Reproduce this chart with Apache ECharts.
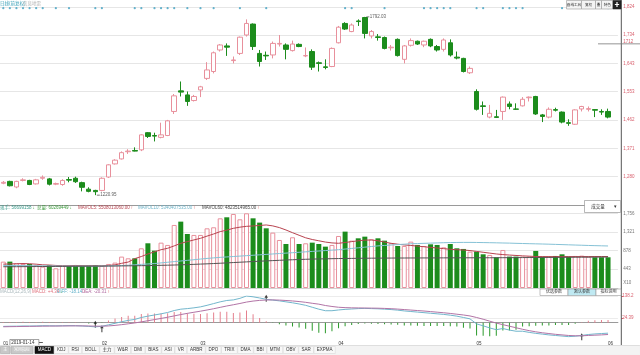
<!DOCTYPE html>
<html>
<head>
<meta charset="utf-8">
<script src="https://cdn.jsdelivr.net/npm/echarts@6.0.0/dist/echarts.min.js"></script>
<style>
  html, body { margin: 0; padding: 0; background: #fff; }
  #chart { width: 640px; height: 355px; }
</style>
</head>
<body>
<div id="chart"></div>
<script>
// 交易日
const dates = [
  '2019-01-11','2019-01-14','2019-01-15','2019-01-16','2019-01-17','2019-01-18','2019-01-21','2019-01-22','2019-01-23','2019-01-24','2019-01-25','2019-01-28','2019-01-29','2019-01-30','2019-01-31',
  '2019-02-01','2019-02-11','2019-02-12','2019-02-13','2019-02-14','2019-02-15','2019-02-18','2019-02-19','2019-02-20','2019-02-21','2019-02-22','2019-02-25','2019-02-26','2019-02-27','2019-02-28',
  '2019-03-01','2019-03-04','2019-03-05','2019-03-06','2019-03-07','2019-03-08','2019-03-11','2019-03-12','2019-03-13','2019-03-14','2019-03-15','2019-03-18','2019-03-19','2019-03-20','2019-03-21','2019-03-22','2019-03-25','2019-03-26','2019-03-27','2019-03-28','2019-03-29',
  '2019-04-01','2019-04-02','2019-04-03','2019-04-04','2019-04-08','2019-04-09','2019-04-10','2019-04-11','2019-04-12','2019-04-15','2019-04-16','2019-04-17','2019-04-18','2019-04-19','2019-04-22','2019-04-23','2019-04-24','2019-04-25','2019-04-26','2019-04-29','2019-04-30',
  '2019-05-06','2019-05-07','2019-05-08','2019-05-09','2019-05-10','2019-05-13','2019-05-14','2019-05-15','2019-05-16','2019-05-17','2019-05-20','2019-05-21','2019-05-22','2019-05-23','2019-05-24','2019-05-27','2019-05-28','2019-05-29','2019-05-30','2019-05-31',
  '2019-06-03'
];

// K线
const opens = [1259,1265,1247,1268,1268,1257,1275,1273,1256,1255,1271,1275,1261,1240,1236,
  1236,1279,1321,1337,1360,1364,1366,1421,1412,1406,1412,1489,1555,1542,1524,
  1558,1595,1617,1686,1699,1652,1675,1734,1769,1675,1669,1670,1705,1702,1684,1704,1667,
  1681,1645,1632,1633,1709,1771,1745,1779,1790,1731,1728,1726,1693,1720,1656,1701,1714,1702,1720,1697,1688,1709,1663,1659,1613,
  1553,1507,1471,1472,1489,1513,1497,1507,1533,1537,1478,1471,1495,1487,1453,1448,1497,1496,1495,1489,1489];
const closes = [1262,1251,1265,1270,1255,1270,1278,1256,1258,1268,1269,1264,1246,1233,1232,
  1275,1318,1333,1357,1362,1362,1414,1409,1410,1414,1459,1539,1551,1521,1537,
  1568,1622,1677,1702,1695,1654,1727,1771,1697,1649,1667,1707,1707,1688,1705,1697,1668,
  1631,1643,1630,1691,1759,1753,1766,1777,1739,1745,1726,1691,1695,1668,1699,1716,1705,1714,1699,1686,1718,1670,1660,1617,1627,
  1496,1505,1483,1470,1535,1505,1496,1528,1535,1481,1473,1496,1493,1455,1451,1494,1505,1498,1493,1487,1471];
const lows = [1256,1249,1243,1265,1253,1255,1270,1252,1253,1251,1262,1260,1233,1230,1220.95,
  1233,1276,1319,1335,1353,1361,1362,1404,1393,1403,1410,1481,1537,1507,1521,
  1535,1590,1611,1681,1667,1643,1670,1729,1686,1633,1654,1659,1697,1656,1681,1695,1663,
  1622,1617,1624,1631,1707,1750,1743,1763,1723,1723,1716,1688,1684,1665,1643,1697,1702,1695,1695,1681,1681,1665,1656,1614,1609,
  1492,1478,1467,1468,1462,1496,1494,1505,1521,1478,1455,1467,1489,1451,1443,1446,1489,1489,1471,1478,1467];
const highs = [1266,1267,1267,1275,1270,1273,1284,1276,1261,1272,1279,1280,1264,1246,1238,
  1278,1320,1336,1361,1368,1374,1416,1423,1421,1453,1462,1545,1585,1553,1542,
  1571,1647,1681,1705,1707,1665,1729,1784,1771,1686,1681,1713,1734,1707,1716,1707,1694,
  1688,1649,1656,1694,1763,1775,1771,1784,1792.03,1750,1737,1729,1702,1723,1702,1723,1716,1716,1723,1702,1723,1720,1681,1661,1633,
  1560,1521,1510,1494,1537,1521,1515,1535,1537,1539,1481,1502,1501,1489,1464,1496,1507,1505,1496,1496,1498];

// 成交量 (X10^7)
const volumes = [620,620,581,565,565,541,502,541,463,518,518,526,526,526,541,
  518,565,597,738,698,698,933,1051,878,1066,1012,1482,1560,1270,1247,
  1247,1403,1427,1638,1662,1740,1615,1756,1638,1537,1403,1302,1129,1035,1192,1035,1051,
  1066,1035,972,1012,1223,1325,1113,1168,1207,1145,1168,1113,1051,988,988,1090,1012,988,1027,1012,957,1035,933,918,855,
  855,792,777,722,894,738,738,738,738,871,738,738,753,792,738,753,761,738,722,722,722];
const volMa5 = [560,565,570,575,570,560,545,540,530,525,525,530,525,525,525,
  520,530,545,580,610,690,740,800,850,900,933,990,1050,1090,1130,
  1168,1220,1270,1325,1360,1403,1430,1450,1458,1470,1482,1460,1420,1364,1300,1240,1180,
  1140,1110,1080,1060,1051,1070,1090,1110,1125,1129,1110,1080,1050,1030,1012,1000,985,970,955,940,925,910,900,894,880,
  860,840,820,800,785,775,765,755,748,740,738,738,738,738,738,738,738,738,740,740,740];
const volMa10 = [530,530,528,526,524,522,520,518,518,516,516,515,515,515,515,515,518,522,528,535,545,
  555,565,575,590,605,620,635,650,665,680,695,708,720,730,740,750,760,770,780,790,800,810,820,830,840,850,
  860,870,880,890,900,915,930,945,960,975,990,1000,1010,1020,1030,1040,1045,1050,1055,1060,1065,1068,1070,1072,
  1072,1070,1068,1065,1062,1058,1055,1050,1046,1042,1038,1034,1030,1025,1020,1015,1010,1005,1000,996,992,988];
const volMa60 = [500,500,501,502,503,504,505,506,507,508,509,510,511,512,513,514,515,517,519,521,523,525,527,530,533,536,
  540,545,550,556,562,568,575,582,590,598,606,614,622,630,637,644,651,658,664,670,675,
  680,683,686,689,692,694,696,698,700,701,702,703,704,705,705,706,706,707,707,708,708,709,709,710,710,710,711,711,712,712,713,714,715,716,717,718,719,720,721,722,723,724,725,726,727,728];

// MACD(12,26,9)
const diffs = [-19.0,-18.14,-17.8,-17.0,-17.2,-16.6,-15.4,-15.8,-16.2,-15.6,-15.0,-15.3,-16.8,-19.0,-21.5,
  -18.5,-11.0,-3.0,5.0,12.0,17.0,27.0,34.0,40.0,46.0,53.0,63.0,70.0,73.0,77.0,
  82,90,99,108,115,118,126,138.2,134,128,121,117,113,108,103,97,90,80,
  70,62,62,66,69,71,73,74,
  73,72,70,68,65,61,58,55,52,49,46,43,39,34,27,20,
  -6,-16,-27,-36,-30,-38,-44,-44,-50,-55,-59,-63,-66,-69,-72,-70,-66,-61,-58,-56,-54];
const deas = [-21.0,-20.31,-19.9,-19.3,-18.9,-18.4,-17.8,-17.4,-17.2,-16.9,-16.5,-16.3,-16.4,-16.9,-17.8,
  -18.0,-16.6,-13.9,-10.1,-5.7,-1.2,4.4,10.3,16.2,22.2,28.4,35.3,42.2,48.4,54.1,
  59.7,65.8,72.4,79.5,86.6,92.9,99.5,106.8,112,115.5,117.5,118,117,115,112.5,109.5,105.5,100.5,
  96,89,84,80,78,77,76.5,76,
  75.5,75,74,72.5,70.5,68,65.5,63,60.5,57.5,54.5,51.5,48,44,40,35,
  27,18,8,-2,-10,-18,-26,-34,-41,-47,-52,-56,-60,-63,-66,-67.5,-67.5,-66,-64.5,-63,-61];
const macdBars = [4.0,4.34,4.2,4.6,3.4,3.6,4.8,3.2,2.0,2.6,3.0,2.0,-0.8,-4.2,-7.4,
  -1.0,11.2,21.8,30.2,35.4,36.4,45.2,47.4,47.6,47.6,49.2,55.4,55.6,49.2,45.8,
  44.6,48.4,53.2,57.0,56.8,50.2,53.0,62.8,44.0,25.0,7.0,-2.0,-8.0,-14.0,-19.0,-25.0,-31.0,-41.0,
  -52,-54,-44,-28,-18,-12,-7,-4,
  -5,-6,-8,-9,-11,-14,-15,-16,-17,-17,-17,-17,-18,-20,-26,-30,
  -66,-68,-70,-68,-40,-40,-36,-20,-18,-16,-14,-14,-12,-12,-12,-5,3,10,13,14,14];
const crossMarks = [[14, -8], [15, -31], [40, 126], [88, -72]];

// 信息地雷
const eventDays = [0,1,2,3,4,5,6,8,10,14,15,20,21,23,24,25,26,28,30,32,36,40,52,53,58,64,65,66,67,68,72,73,76,77,78,79,85,92];

// 坐标刻度
const priceTicks = [1280, 1371, 1462, 1553, 1643, 1734, 1824];
const volTicks = [443, 878, 1321, 1756];
const macdTicks = [138.2, 24.39];
const crossPrice = 1712;

const chart = echarts.init(document.getElementById('chart'));

const FONT = '"Liberation Sans","Noto Sans CJK SC",sans-serif';
const UP = '#e8909c';
const DOWN = '#1c8c1c';
const AXIS_RED = '#d9606e';

const xCats = dates.concat(['']);
const candleData = dates.map((d, i) => [opens[i], closes[i], lows[i], highs[i]]);
const volData = volumes.map((v, i) => ({
  value: v,
  itemStyle: closes[i] >= opens[i]
    ? { color: '#fff', borderColor: UP, borderWidth: 1 }
    : { color: DOWN }
}));
const macdData = macdBars.map(v => ({ value: v, itemStyle: { color: v >= 0 ? '#e5808e' : '#2a9a2a' } }));
const monthStart = dates.map((d, i) => i === 0 || d.slice(5, 7) !== dates[i - 1].slice(5, 7));

const gridLeft = -1.6;
const gridWidth = 619.5;

const makeX = (k) => ({
  type: 'category',
  gridIndex: k,
  data: xCats,
  boundaryGap: true,
  axisLine: { show: true, lineStyle: { color: k === 1 ? '#d0d0d0' : '#9a9a9a', width: 1 } },
  axisTick: { show: false },
  splitLine: { show: false },
  axisLabel: k === 2 ? {
    interval: (i) => !!monthStart[i],
    formatter: (v, i) => (dates[i] ? dates[i].slice(5, 7) : ''),
    align: 'left',
    margin: 1.5,
    fontSize: 4.5,
    fontFamily: FONT,
    color: '#333'
  } : { show: false }
});

const option = {
  animation: false,
  backgroundColor: '#fff',
  grid: [
    { left: gridLeft, width: gridWidth, top: 6.9, height: 198.1 },
    { left: gridLeft, width: gridWidth, top: 213.3, height: 74.7 },
    { left: gridLeft, width: gridWidth, top: 296, height: 44 }
  ],
  xAxis: [makeX(0), makeX(1), makeX(2)],
  yAxis: [
    {
      gridIndex: 0, type: 'value', position: 'right', offset: 3.4,
      min: 1189.33, max: 1824,
      axisLine: { show: false },
      axisTick: { show: false, customValues: priceTicks },
      axisLabel: { customValues: priceTicks, color: AXIS_RED, fontSize: 4.5, fontFamily: FONT, margin: 2 },
      splitLine: { show: true, lineStyle: { color: '#e6e6e6', width: 1 } }
    },
    {
      gridIndex: 1, type: 'value', position: 'right', offset: 3.4,
      min: 0, max: 1756,
      axisLine: { show: false },
      axisTick: { show: false, customValues: volTicks },
      axisLabel: { customValues: volTicks, color: '#777', fontSize: 4.5, fontFamily: FONT, margin: 2 },
      splitLine: { show: true, lineStyle: { color: '#e6e6e6', width: 1 } }
    },
    {
      gridIndex: 2, type: 'value', position: 'right', offset: 3.4,
      min: -89.4, max: 138.2,
      axisLine: { show: false },
      axisTick: { show: true, customValues: macdTicks, length: 2, lineStyle: { color: AXIS_RED } },
      axisLabel: { customValues: macdTicks, color: AXIS_RED, fontSize: 4.5, fontFamily: FONT, margin: 1 },
      splitLine: { show: true, lineStyle: { color: '#ececec', width: 1 } }
    }
  ],
  series: [
    {
      name: 'K线', type: 'candlestick', xAxisIndex: 0, yAxisIndex: 0,
      data: candleData,
      barWidth: 5,
      itemStyle: { color: '#fff', color0: DOWN, borderColor: UP, borderColor0: DOWN, borderWidth: 1 }
    },
    {
      name: '信息地雷', type: 'scatter', xAxisIndex: 0, yAxisIndex: 0,
      data: eventDays.map(i => [i, 1820]),
      symbol: 'circle', symbolSize: 2.2,
      itemStyle: { color: '#3c9fc0' }
    },
    {
      name: '极值', type: 'scatter', xAxisIndex: 0, yAxisIndex: 0,
      data: [[14, lows[14]], [55, highs[55]]],
      symbol: 'rect', symbolSize: [3, 0.8], symbolOffset: [3, 0],
      itemStyle: { color: '#333' },
      label: {
        show: true, position: 'right', distance: 0.5,
        formatter: p => p.value[1].toFixed(2),
        fontSize: 4.5, fontFamily: FONT, color: '#333'
      }
    },
    {
      name: '成交量', type: 'bar', xAxisIndex: 1, yAxisIndex: 1,
      data: volData, barWidth: 5
    },
    {
      name: 'MAVOL5', type: 'line', xAxisIndex: 1, yAxisIndex: 1, data: volMa5,
      symbol: 'none', lineStyle: { color: '#b8434f', width: 1 }
    },
    {
      name: 'MAVOL10', type: 'line', xAxisIndex: 1, yAxisIndex: 1, data: volMa10,
      symbol: 'none', lineStyle: { color: '#86c2d6', width: 1 }
    },
    {
      name: 'MAVOL60', type: 'line', xAxisIndex: 1, yAxisIndex: 1, data: volMa60,
      symbol: 'none', lineStyle: { color: '#555', width: 1 }
    },
    {
      name: 'MACD', type: 'bar', xAxisIndex: 2, yAxisIndex: 2,
      data: macdData, barWidth: 1
    },
    {
      name: 'DIFF', type: 'line', xAxisIndex: 2, yAxisIndex: 2, data: diffs,
      symbol: 'none', lineStyle: { color: '#72b6cc', width: 1 }
    },
    {
      name: 'DEA', type: 'line', xAxisIndex: 2, yAxisIndex: 2, data: deas,
      symbol: 'none', lineStyle: { color: '#b274a6', width: 1 }
    },
    {
      name: '金叉死叉', type: 'scatter', xAxisIndex: 2, yAxisIndex: 2,
      data: crossMarks,
      symbol: 'path://M5,0 L10,6 L6.5,6 L6.5,14 L3.5,14 L3.5,6 L0,6 Z',
      symbolSize: [3.5, 7],
      itemStyle: { color: '#111' }
    }
  ]
};

chart.setOption(option);

// ---- 界面文字 ----
const ctx = document.createElement('canvas').getContext('2d');
const textW = (t, size) => { ctx.font = size + 'px ' + FONT; return ctx.measureText(t).width; };

const txt = (x, y, text, color, extra) => ({
  type: 'text', x, y, silent: true, z: 20,
  style: Object.assign({ text, fill: color, fontSize: 4.5, fontFamily: FONT, verticalAlign: 'middle' }, extra || {})
});
const box = (x, y, w, h, fill, stroke) => ({
  type: 'rect', silent: true, z: 19,
  shape: { x, y, width: w, height: h },
  style: { fill, stroke, lineWidth: 0.6 }
});
const line = (x1, y1, x2, y2, color, w) => ({
  type: 'line', silent: true, z: 18,
  shape: { x1, y1, x2, y2 },
  style: { stroke: color, lineWidth: w || 1 }
});

const axisX = 621.3;
const g = [];

// 右侧纵轴线
g.push(line(axisX, 0, axisX, 345, '#555', 1));

// 左上标题
g.push(txt(0, 3.5, '日线(前复权)', '#3aa0b8'));
g.push(txt(23, 3.5, '信息地雷', '#b5b5b5'));

// 右上按钮
[[566.5, 15, '画线工具'], [581.5, 14, '复权'], [595.5, 6, '叠'], [601.5, 11.5, '特色']].forEach(([x, w, t]) => {
  g.push(box(x, 0.5, w, 8.5, '#f4f4f4', '#999'));
  g.push(txt(x + w / 2, 4.8, t, '#333', { align: 'center', fontSize: 3.6 }));
});
g.push(box(613, 0.5, 8, 8.5, '#222', '#222'));
g.push(txt(617, 4.8, '✚', '#fff', { align: 'center', fontSize: 5 }));

// 十字光标价格
const yCross = chart.convertToPixel({ yAxisIndex: 0 }, crossPrice);
g.push(line(598, yCross + 2, 640, yCross + 2, '#777', 0.8));
g.push(txt(axisX + 2, yCross, String(crossPrice), AXIS_RED));

// 成交量图例
const volLegend = [
  [0, '现手: 56699158', '#3a9a8a', '↓', '#2a9a2a'],
  [37, '总量: 60269449', '#3a9a3a', '↓', '#2a9a2a'],
  [78, 'MAVOL5: 5508013060.00', '#b8434f', '↑', '#d03030'],
  [138, 'MAVOL10: 5340407535.00', '#6fb3c8', '↑', '#d03030'],
  [202, 'MAVOL60: 4823514965.00', '#444', '↑', '#d03030']
];
volLegend.forEach(([x, t, c, a, ac]) => {
  g.push(txt(x, 207.8, t, c));
  g.push(txt(x + textW(t, 4.5) + 1, 207.8, a, ac));
});

// 成交量下拉框
g.push(box(584.5, 200.5, 36, 12, '#fff', '#888'));
g.push(txt(598, 206.5, '成交量', '#333', { align: 'center' }));
g.push(txt(615.5, 206.5, '▾', '#333', { align: 'center', fontSize: 5 }));
g.push(txt(axisX + 2, 283, 'X10', '#777'));

// MACD 图例
const macdLegend = [
  [0, 'MACD(12,26,9)', '#aab8bc', '', ''],
  [32, 'MACD: +4.34', '#e0707c', '↓', '#2a9a2a'],
  [57, 'DIFF: -18.14', '#5fb0c8', '↑', '#d03030'],
  [82, 'DEA: -20.31', '#b06aa0', '↑', '#d03030']
];
macdLegend.forEach(([x, t, c, a, ac]) => {
  g.push(txt(x, 292, t, c));
  if (a) g.push(txt(x + textW(t, 4.5) + 1, 292, a, ac));
});

// MACD 按钮
[[540, 28, '优选参数', '#fff'], [568, 28, '默认参数', '#bfe9f2'], [596, 25, '指标说明', '#fff']].forEach(([x, w, t, f]) => {
  g.push(box(x, 289, w, 6.5, f, '#999'));
  g.push(txt(x + w / 2, 292.3, t, '#333', { align: 'center', fontSize: 4 }));
});

// 十字光标日期
const xCross = chart.convertToPixel({ xAxisIndex: 2 }, 1);
g.push(box(xCross, 339.5, 29, 6, '#fff', '#666'));
g.push(txt(xCross + 1.5, 342.6, dates[1], '#333'));
g.push(line(xCross + 29, 342.5, xCross + 33, 342.5, '#333', 0.8));

// 底部指标栏
g.push(box(0, 345.5, 640, 9.5, '#f3f3f3', '#f3f3f3'));
g.push(line(0, 345.5, 640, 345.5, '#888', 1));
g.push(box(0.5, 346.5, 9.5, 7, '#c8c8c8', '#aaa'));
g.push(txt(5.2, 350, '主', '#fff', { align: 'center', fontSize: 4 }));
g.push(box(11, 346.5, 22, 7, '#c8c8c8', '#aaa'));
g.push(txt(22, 350, '常用指标', '#fff', { align: 'center', fontSize: 4 }));
const tabs = ['MACD', 'KDJ', 'RSI', 'BOLL', '主力', 'W&R', 'DMI', 'BIAS', 'ASI', 'VR', 'ARBR', 'DPO', 'TRIX', 'DMA', 'BBI', 'MTM', 'OBV', 'SAR', 'EXPMA'];
let tx = 35;
tabs.forEach((t, k) => {
  const w = textW(t, 4.5) + 5.5;
  if (k === 0) g.push(box(tx, 346.5, w, 7, '#111', '#111'));
  else g.push(box(tx, 346.5, w, 7, '#f8f8f8', '#d8d8d8'));
  g.push(txt(tx + w / 2, 350, t, k === 0 ? '#fff' : '#333', { align: 'center' }));
  tx += w + 0.5;
});

chart.setOption({ graphic: g });
</script>
</body>
</html>
